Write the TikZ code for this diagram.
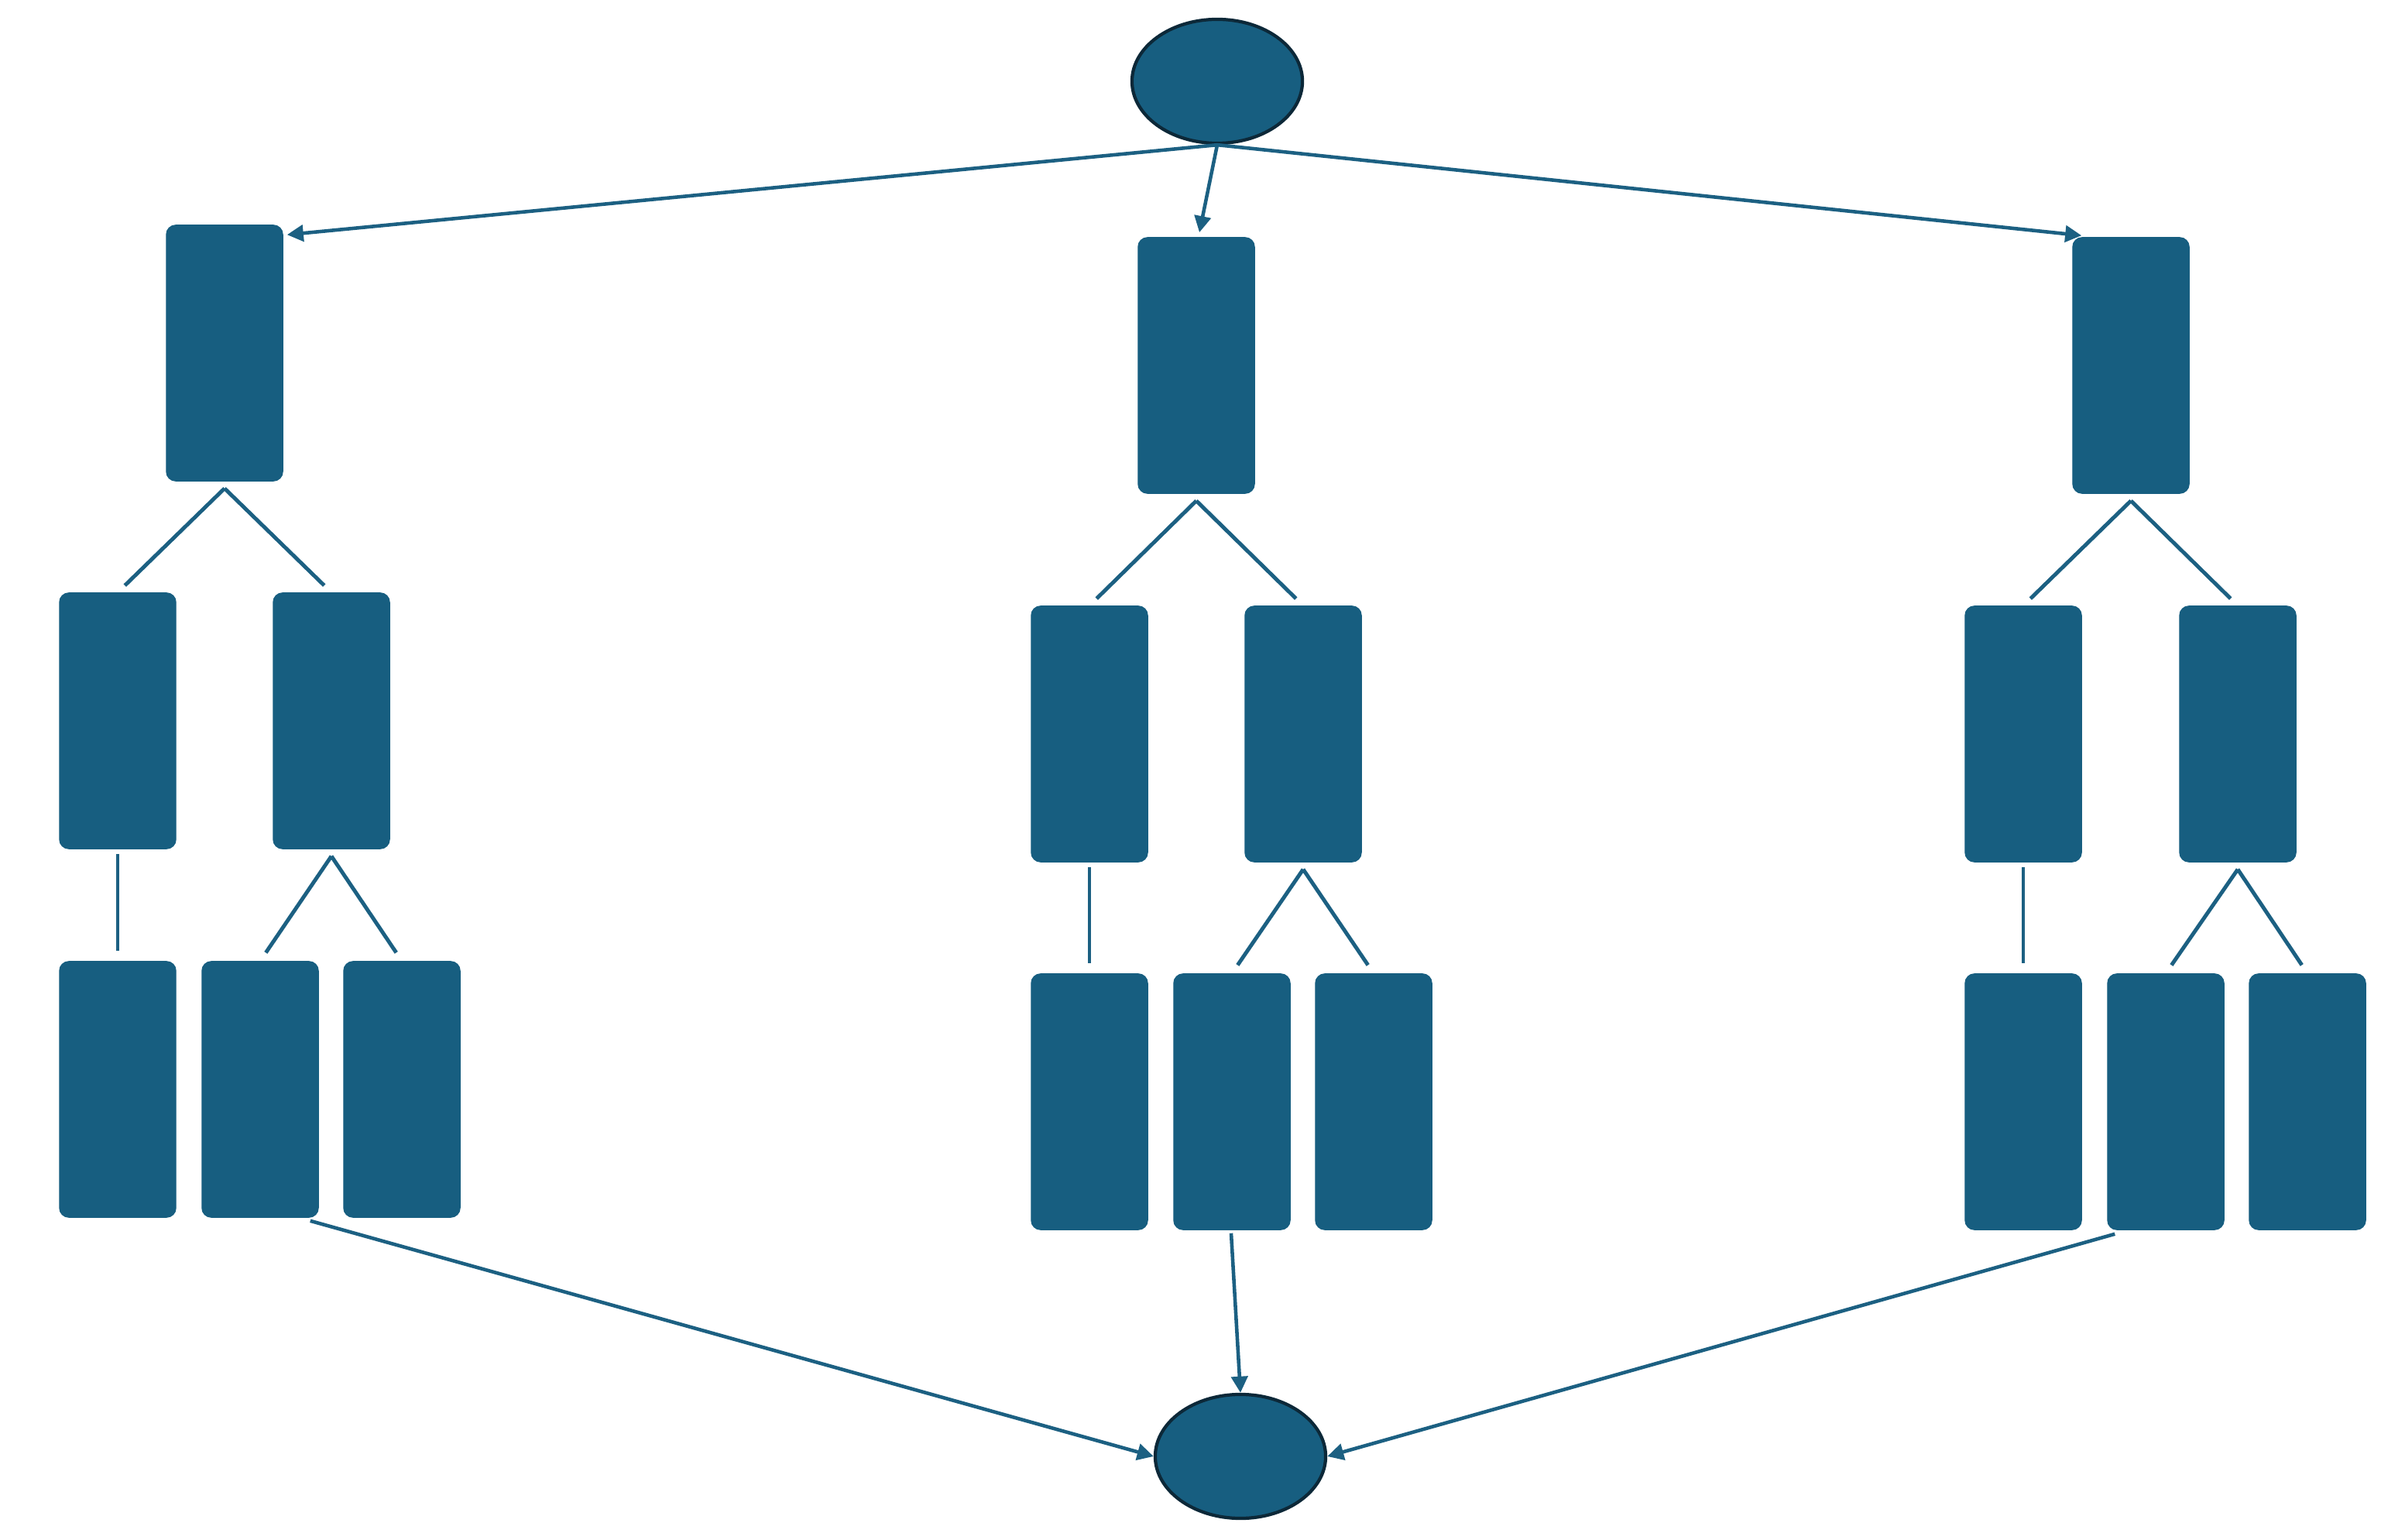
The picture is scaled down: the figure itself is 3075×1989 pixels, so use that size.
\documentclass[tikz,border=0pt]{standalone}
\usetikzlibrary{shapes.geometric,arrows.meta}
\definecolor{boxc}{RGB}{23,94,128}
\definecolor{linec}{RGB}{28,96,130}
\definecolor{rimc}{RGB}{12,40,56}
\begin{document}
\begin{tikzpicture}[x=0.01cm,y=-0.01cm,
  blk/.style={rectangle,rounded corners=0.12cm,fill=boxc,draw=boxc,line width=0.4pt,inner sep=0pt,minimum width=1.5cm,minimum height=3.3cm},
  oval/.style={ellipse,fill=boxc,draw=rimc,line width=1.2pt,inner sep=0pt,minimum width=2.2cm,minimum height=1.6cm},
  tl/.style={draw=linec,line width=1.4pt,shorten >=0.13cm},
  ar/.style={draw=linec,line width=1.3pt,-{Triangle[length=6pt,width=6pt]}}]
\useasboundingbox (0,0) rectangle (3075,1989);
% ellipses
\node[oval] (top) at (1572,105) {};
\node[oval] (bot) at (1602,1881) {};
% left column
\node[blk] (L0) at (290,456) {};
\node[blk] (L1a) at (152,931) {};
\node[blk] (L1b) at (428,931) {};
\node[blk] (L2a) at (152,1407) {};
\node[blk] (L2b) at (336,1407) {};
\node[blk] (L2c) at (519,1407) {};
% middle column
\node[blk] (M0) at (1545,472) {};
\node[blk] (M1a) at (1407,948) {};
\node[blk] (M1b) at (1683,948) {};
\node[blk] (M2a) at (1407,1423) {};
\node[blk] (M2b) at (1591,1423) {};
\node[blk] (M2c) at (1774,1423) {};
% right column
\node[blk] (R0) at (2752,472) {};
\node[blk] (R1a) at (2613,948) {};
\node[blk] (R1b) at (2890,948) {};
\node[blk] (R2a) at (2613,1423) {};
\node[blk] (R2b) at (2797,1423) {};
\node[blk] (R2c) at (2980,1423) {};
% tree lines
\foreach \c in {L,M,R}{
  \coordinate (\c0x) at ([shift={(0,9)}]\c0.south);
  \coordinate (\c1bx) at ([shift={(0,9)}]\c1b.south);
  \draw[tl] (\c0x) -- (\c1a.north);
  \draw[tl] (\c0x) -- (\c1b.north);
  \draw[tl] ([shift={(0,6)}]\c1a.south) -- (\c2a.north);
  \draw[tl] (\c1bx) -- (\c2b.north);
  \draw[tl] (\c1bx) -- (\c2c.north);
}
% arrows from top
\draw[ar] (top.south) -- ([shift={(5,13)}]L0.north east);
\draw[ar] (top.south) -- ([shift={(4,-6)}]M0.north);
\draw[ar] (top.south) -- ([shift={(12,-2)}]R0.north west);
% arrows to bottom
\draw[ar] ([shift={(-11,4)}]L2b.south east) -- (bot.west);
\draw[ar] ([shift={(-1,4)}]M2b.south) -- (bot.north);
\draw[ar] ([shift={(10,5)}]R2b.south west) -- (bot.east);
\end{tikzpicture}
\end{document}
